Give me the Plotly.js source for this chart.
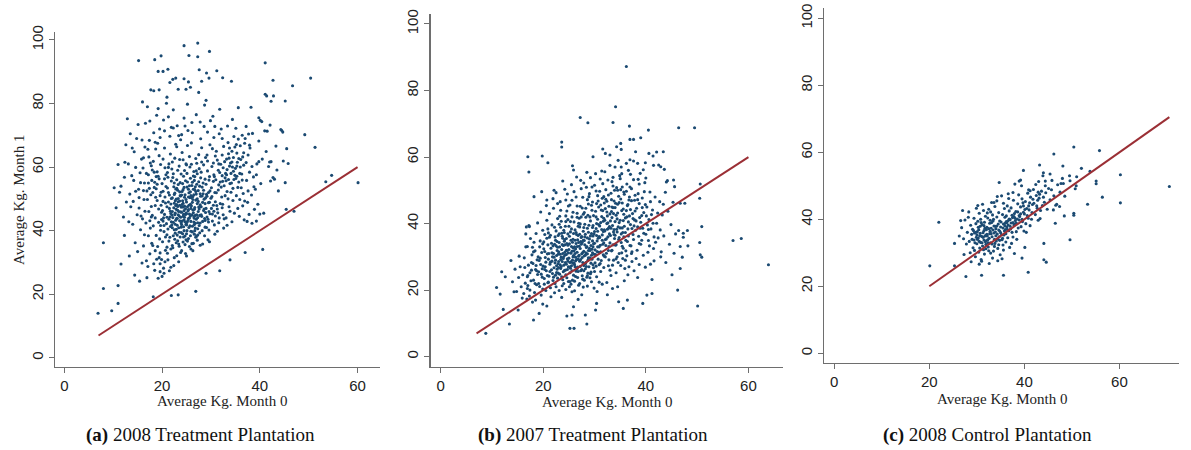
<!DOCTYPE html>
<html>
<head>
<meta charset="utf-8">
<script src="https://cdn.plot.ly/plotly-3.0.1.min.js"></script>
<style>
  html, body { margin: 0; padding: 0; background: #fff; }
  #chart { width: 1191px; height: 450px; }
</style>
</head>
<body>
<div id="chart"></div>
<script>
// panel captions and axis titles
var captions = ['(a)', '(b)', '(c)'];
var captionText = ['2008 Treatment Plantation', '2007 Treatment Plantation', '2008 Control Plantation'];
var xTitle = 'Average Kg. Month 0';
var yTitle = 'Average Kg. Month 1';
var xTicks = [0, 20, 40, 60];
var yTicks = [0, 20, 40, 60, 80, 100];

// 45 degree reference line ends (month 0 = month 1)
var lineA = [7, 60];
var lineB = [7, 60];
var lineC = [20, 70.5];

// (a) 2008 treatment: [kg month 0, kg month 1]
var coreA = [
  [10.2,53.5],[10.6,47.2],[11.3,52.1],[11.6,54.0],[11.0,60.8],
  [12.1,44.3],[12.4,61.5],[12.6,67.0],[12.9,75.2],[12.3,38.5],[12.7,49.0],
  [13.1,61.0],[13.3,32.0],[13.5,70.5],[13.8,57.3],[13.2,42.8],[13.6,47.5],[13.9,66.0],
  [14.0,42.0],[14.3,64.8],[14.5,36.2],[14.6,52.4],[14.4,26.0],[14.8,69.0],[14.2,55.8],[14.9,45.0],
  [15.1,73.4],[15.3,47.1],[15.0,33.4],[15.5,58.2],[15.6,40.3],[15.4,24.1],[15.8,62.5],[15.2,53.0],[15.9,29.8],[15.7,44.6],
  [16.0,80.5],[16.2,35.2],[16.4,55.0],[16.5,66.3],[16.7,42.4],[16.3,49.8],[16.8,30.5],[16.1,59.7],[16.9,25.2],[16.6,73.8],[16.4,38.7],[16.9,52.5],
  [17.0,79.0],[17.2,57.6],[17.3,46.0],[17.5,32.7],[17.4,68.4],[17.6,40.8],[17.8,60.4],[17.1,28.7],[17.7,51.3],[17.9,36.0],[17.5,74.5],[17.2,55.0],[17.8,44.3],[17.3,63.2],
  [18.0,59.1],[18.2,41.5],[18.3,84.0],[18.5,27.5],[18.4,53.6],[18.6,47.9],[18.7,65.7],[18.1,35.3],[18.8,57.0],[18.9,31.0],[18.3,70.8],[18.6,44.0],[18.2,61.8],[18.8,38.5],[18.5,55.2],[18.9,76.3],
  [19.0,49.5],[19.2,25.0],[19.1,67.5],[19.4,56.3],[19.3,42.6],[19.5,72.0],[19.6,29.6],[19.7,60.8],[19.8,52.1],[19.5,37.4],[19.9,45.8],[19.2,78.4],[19.6,33.0],[19.4,63.6],[19.8,48.0],[19.0,58.5],[19.7,40.1],
  [20.0,54.8],[20.1,46.3],[20.3,28.2],[20.2,62.5],[20.4,39.7],[20.5,71.4],[20.6,50.6],[20.7,33.8],[20.8,57.6],[20.3,44.0],[20.9,80.1],[20.1,36.5],[20.5,66.0],[20.7,48.7],[20.4,26.6],[20.9,42.2],[20.6,59.8],[20.2,52.4],
  [21.0,47.5],[21.2,30.8],[21.1,58.3],[21.4,43.6],[21.3,75.8],[21.5,51.2],[21.6,37.9],[21.7,64.1],[21.8,45.4],[21.5,27.4],[21.9,55.6],[21.2,40.5],[21.6,69.7],[21.3,49.0],[21.8,34.2],[21.4,61.0],[21.9,42.8],[21.1,53.4],[21.7,46.1],[21.0,82.0],
  [22.0,44.9],[22.1,50.3],[22.3,38.4],[22.2,56.7],[22.4,47.2],[22.5,31.5],[22.6,62.8],[22.7,42.0],[22.8,53.1],[22.9,36.2],[22.3,72.3],[22.5,48.6],[22.0,59.4],[22.7,45.5],[22.4,29.0],[22.8,67.2],[22.1,40.9],[22.6,51.8],[22.9,46.7],[22.2,34.6],[22.5,55.0],[22.8,43.3],[22.3,78.0],[22.7,49.4],
  [23.0,48.2],[23.1,41.7],[23.3,54.5],[23.2,36.8],[23.4,46.0],[23.5,60.3],[23.6,43.1],[23.7,51.0],[23.8,33.1],[23.9,57.8],[23.3,45.0],[23.5,39.5],[23.0,66.4],[23.6,49.3],[23.8,44.2],[23.2,52.7],[23.4,30.2],[23.9,47.4],[23.1,73.0],[23.7,38.0],[23.3,50.1],[23.6,62.4],[23.9,42.5],[23.0,56.0],[23.5,35.1],[23.8,68.6],
  [24.0,45.8],[24.1,52.3],[24.2,39.0],[24.3,48.6],[24.4,57.1],[24.5,43.4],[24.6,50.5],[24.7,35.6],[24.8,46.9],[24.9,61.0],[24.2,54.8],[24.4,41.2],[24.6,47.7],[24.8,32.8],[24.0,70.2],[24.3,44.5],[24.5,53.6],[24.7,38.3],[24.9,49.8],[24.1,64.6],[24.3,36.4],[24.6,58.9],[24.8,45.1],[24.0,51.2],[24.5,75.4],[24.9,42.0],
  [25.0,49.0],[25.1,42.6],[25.2,55.3],[25.3,46.2],[25.4,37.5],[25.5,51.9],[25.6,44.0],[25.7,60.0],[25.8,48.3],[25.9,39.8],[25.2,66.8],[25.4,53.0],[25.6,35.0],[25.8,56.5],[25.0,45.3],[25.3,71.5],[25.5,41.0],[25.7,50.4],[25.9,47.0],[25.1,58.0],[25.4,43.8],[25.6,63.3],[25.8,52.2],[25.2,79.8],[25.9,34.2],
  [26.0,47.8],[26.1,54.2],[26.2,41.4],[26.3,50.7],[26.4,45.6],[26.5,58.6],[26.6,38.9],[26.7,52.9],[26.8,44.8],[26.9,62.7],[26.2,48.9],[26.4,36.0],[26.6,55.8],[26.8,42.3],[26.0,67.6],[26.3,46.5],[26.5,51.3],[26.7,40.0],[26.9,49.6],[26.1,74.0],[26.4,57.2],[26.6,43.9],[26.8,53.8],[26.3,33.7],
  [27.0,51.5],[27.1,45.0],[27.2,57.9],[27.3,40.6],[27.4,49.2],[27.5,63.9],[27.6,46.8],[27.7,54.0],[27.8,42.4],[27.9,68.9],[27.2,37.0],[27.4,52.6],[27.6,59.5],[27.8,48.1],[27.0,76.5],[27.3,44.1],[27.5,55.4],[27.7,39.3],[27.9,50.8],[27.1,61.2],[27.5,83.5],[27.8,35.4],
  [28.0,47.5],[28.2,53.7],[28.3,42.9],[28.5,60.7],[28.6,49.9],[28.7,38.4],[28.8,56.2],[28.9,45.7],[28.1,66.1],[28.4,51.6],[28.6,72.8],[28.8,41.1],[28.0,58.4],[28.3,35.8],[28.5,46.3],[28.9,63.0],[28.7,79.5],[28.2,50.9],
  [29.0,54.6],[29.2,44.3],[29.3,61.9],[29.5,48.8],[29.6,40.2],[29.7,57.0],[29.8,67.0],[29.1,51.4],[29.4,37.1],[29.6,46.0],[29.9,74.6],[29.3,58.8],[29.5,42.7],[29.8,52.5],[29.0,81.0],[29.7,36.5],
  [30.0,50.2],[30.2,60.2],[30.3,45.2],[30.5,55.5],[30.6,69.3],[30.7,41.8],[30.8,52.0],[30.9,63.5],[30.1,47.0],[30.4,76.0],[30.6,57.6],[30.8,38.9],[30.3,65.8],[30.9,49.1],
  [31.0,56.0],[31.2,47.9],[31.3,62.2],[31.5,52.8],[31.6,42.5],[31.7,70.5],[31.8,58.3],[31.1,65.0],[31.4,45.6],[31.6,54.4],[31.9,48.5],[31.3,39.8],[31.8,78.2],
  [32.0,60.9],[32.2,50.6],[32.3,57.3],[32.5,45.0],[32.6,66.5],[32.7,54.1],[32.8,61.7],[32.1,72.0],[32.4,48.3],[32.6,40.8],[32.9,56.6],[32.3,63.8],
  [33.0,58.0],[33.2,62.5],[33.3,52.3],[33.5,67.7],[33.6,56.1],[33.7,47.5],[33.8,60.3],[33.1,44.0],[33.4,72.9],[33.6,64.2],[33.9,54.8],[33.3,41.7],
  [34.0,61.3],[34.2,55.0],[34.3,65.0],[34.5,49.5],[34.6,58.7],[34.7,69.6],[34.8,45.5],[34.1,52.1],[34.4,75.0],[34.6,63.0],[34.9,57.4],[34.3,42.8],
  [35.0,59.6],[35.2,51.0],[35.3,64.4],[35.5,47.0],[35.6,68.8],[35.7,55.3],[35.8,44.5],[35.1,72.2],[35.4,61.5],[35.9,49.8],[35.6,78.7],
  [36.0,66.7],[36.2,53.5],[36.4,70.0],[36.5,47.8],[36.7,60.6],[36.8,43.4],[36.3,57.8],[36.9,67.5],[36.6,51.7],
  [37.0,69.0],[37.3,55.8],[37.5,48.9],[37.6,63.8],[37.8,45.1],[37.2,72.8],[37.9,58.4],[37.4,42.9],
  [38.0,66.0],[38.3,51.2],[38.5,70.6],[38.7,56.9],[38.9,46.7],[38.2,78.8],
  [39.1,53.0],[39.4,61.0],[39.6,48.3],[39.8,68.2],[39.3,43.0],
  [40.2,54.8],[40.5,62.5],[40.8,45.5],[40.4,74.3],
  [41.3,64.9],[41.8,60.2],[41.5,71.3],[42.2,55.6],[42.8,82.4],[43.3,66.6],[43.8,52.5],[44.5,71.5]
];
// denser middle of panel (a)
var coreA2 = [
  [19.3,46.8],[19.6,51.0],[19.9,43.5],[20.2,49.2],[20.5,45.1],[20.8,53.9],[20.4,41.6],[20.7,38.0],[21.0,44.2],[21.3,52.0],[21.5,47.0],[21.7,41.3],[21.9,50.1],[21.2,56.8],[21.4,36.7],[21.8,48.4],
  [22.1,46.0],[22.3,42.6],[22.5,51.4],[22.7,39.2],[22.9,49.9],[22.2,44.1],[22.4,53.8],[22.6,37.3],[22.8,47.9],[22.0,41.8],[22.3,57.9],[22.6,45.0],[22.9,40.4],
  [23.0,43.9],[23.2,47.6],[23.4,40.9],[23.6,52.2],[23.8,45.9],[23.1,38.6],[23.3,49.1],[23.5,44.6],[23.7,55.1],[23.9,41.1],[23.2,46.4],[23.4,35.8],[23.6,48.0],[23.8,50.9],[23.0,53.3],
  [24.1,43.0],[24.3,47.4],[24.5,40.0],[24.7,51.3],[24.9,45.5],[24.2,49.4],[24.4,38.0],[24.6,44.2],[24.8,55.7],[24.0,41.9],[24.3,52.9],[24.5,46.3],[24.7,42.8],[24.9,37.1],[24.1,48.2],
  [25.0,41.8],[25.2,47.5],[25.4,50.6],[25.6,45.2],[25.8,38.4],[25.1,53.7],[25.3,43.2],[25.5,48.0],[25.7,41.5],[25.9,51.0],[25.2,36.7],[25.4,46.6],[25.6,54.1],[25.8,44.6],[25.0,39.0],
  [26.1,45.0],[26.3,49.8],[26.5,42.7],[26.7,47.3],[26.9,52.3],[26.2,39.6],[26.4,53.0],[26.6,46.7],[26.8,40.8],[26.0,50.4],[26.5,44.4],[26.7,57.0],[26.9,37.9],[26.2,55.2],
  [27.0,43.6],[27.2,48.5],[27.4,46.0],[27.6,41.6],[27.8,51.6],[27.1,54.6],[27.3,38.6],[27.5,47.4],[27.7,44.8],[27.9,56.6],[27.2,50.0],
  [28.1,44.5],[28.3,48.9],[28.5,52.7],[28.7,43.8],[28.9,50.3],[28.2,40.0],[28.4,55.0],[28.6,46.8],[28.8,48.5],
  [29.0,47.0],[29.2,50.8],[29.4,43.6],[29.6,55.9],[29.8,45.3],[29.1,41.0],[29.5,52.0],
  [30.1,53.5],[30.3,43.0],[30.5,48.0],[30.7,57.0],[30.9,44.6],[30.2,50.7],
  [31.1,51.9],[31.3,46.8],[31.5,59.0],[31.7,44.0],[31.9,55.3],
  [32.1,53.7],[32.3,47.2],[32.5,59.8],[32.7,43.7],[32.9,51.0],
  [33.1,55.7],[33.3,59.2],[33.5,50.0],[33.7,62.8],[33.9,46.1],
  [34.1,58.0],[34.3,61.6],[34.5,53.3],[34.7,56.1],[34.9,66.3],
  [35.1,56.4],[35.3,60.3],[35.5,53.6],[35.7,62.7],[35.9,58.0],
  [36.1,62.4],[36.4,55.9],[36.7,64.5],[36.9,49.3],[37.2,61.4],[37.6,52.5],[37.9,66.9],[38.4,60.2],[38.8,53.8],[39.3,57.6],
  [16.5,46.1],[17.0,49.8],[17.4,53.3],[17.8,47.6],[18.1,52.0],[18.4,58.4],[18.7,50.5],[19.0,54.6],[16.8,58.0],[17.6,61.3],
  [18.0,44.8],[15.3,50.4],[16.0,43.7],[17.2,38.4],[19.1,35.0],[19.4,31.5],[18.3,29.6],[20.6,30.2],[21.1,32.9],[21.8,28.5],[20.0,25.6],[19.6,27.1]
];
var coreA3 = [
  [16.2,62.9],[17.1,65.6],[18.6,67.8],[19.6,69.3],[20.3,74.8],[21.9,72.5],[23.4,69.9],[24.7,72.9],[26.2,70.8],[27.8,74.2],[29.3,71.0],
  [30.8,72.8],[32.3,69.0],[33.8,66.0],[35.2,67.1],[36.5,63.2],[37.7,70.4],[15.9,68.5],[14.6,59.9],[13.4,51.5],[12.3,56.8],
  [20.5,56.3],[21.3,59.9],[22.1,61.6],[23.2,59.0],[24.3,62.3],[25.0,60.7],[26.0,60.9],[27.0,58.8],[28.1,61.6],[29.2,63.8],[30.5,61.3],
  [31.6,61.0],[32.4,55.5],[33.2,57.6],[34.4,60.0],[35.3,57.1],[36.0,60.0],
  [19.7,41.6],[20.2,43.0],[21.0,38.7],[21.6,44.3],[22.5,40.3],[23.1,43.8],[23.9,39.4],[24.4,45.1],[25.1,40.0],[25.9,42.9],[26.6,41.9],
  [27.3,42.5],[28.0,45.0],[28.8,43.2],[29.7,48.9],[30.6,46.1],[17.9,55.8],[18.8,53.2],[19.2,57.1],[16.2,52.6],[15.6,55.1],[14.1,49.2],
  [22.1,35.3],[23.0,32.1],[24.0,33.7],[25.0,32.0],[26.1,35.9],[27.0,38.2],[21.0,34.8],[19.9,30.9],[18.6,33.7],[17.5,43.1]
];
var outA = [
  [27.3,99.0],[24.5,98.2],[29.7,96.4],[25.5,95.1],[27.3,94.7],[15.2,93.5],[18.5,93.8],[19.8,95.0],
  [19.2,90.1],[20.2,90.1],[21.2,90.8],[27.6,90.6],[31.2,90.3],[29.1,89.6],[41.1,92.8],[50.4,88.0],
  [46.7,85.6],[42.7,87.3],[34.2,87.0],[32.4,88.1],[29.6,88.0],[28.1,87.0],[22.8,88.0],[22.2,87.6],
  [21.6,86.6],[24.5,87.8],[25.4,86.8],[25.8,85.1],[17.7,84.3],[19.4,84.3],[23.3,84.5],[24.9,84.5],
  [41.1,82.9],[41.4,82.4],[42.3,80.7],[45.2,80.8],[49.2,70.2],[51.3,66.2],[45.5,65.8],[45.8,61.1],
  [44.8,61.9],[44.3,71.8],[44.7,71.0],[43.5,59.1],[42.7,56.7],[43.0,56.2],[45.2,55.1],[39.8,61.7],
  [42.0,61.6],[41.0,71.4],[42.1,73.2],[39.8,75.5],[40.1,74.7],
  [6.9,14.0],[8.0,36.2],[8.0,21.8],[9.7,14.8],[11.0,22.7],[11.0,17.1],[11.6,29.5],[18.2,19.2],
  [21.9,19.6],[23.3,19.8],[26.9,20.9],[29.0,26.6],[31.8,27.4],[37.0,33.1],[40.6,34.1],[45.4,46.7],
  [47.0,46.1],[53.5,55.4],[54.7,57.4],[60.1,55.1],[42.3,61.7],[38.4,42.3],[40.0,45.2],[33.9,30.8]
];

// (b) 2007 treatment
var coreB = [
  [14.0,22.5],[14.5,26.3],[14.8,19.6],[15.2,23.8],[15.5,27.0],[15.7,21.0],[15.9,17.6],[15.3,30.2],
  [16.0,24.6],[16.2,19.0],[16.4,26.8],[16.5,22.1],[16.7,39.0],[16.8,17.3],[16.3,29.7],[16.9,24.0],[16.6,33.0],
  [17.0,21.4],[17.1,27.5],[17.3,18.2],[17.4,25.2],[17.5,35.5],[17.6,22.8],[17.8,30.6],[17.9,16.4],[17.2,39.4],[17.7,26.0],[17.4,20.0],[17.9,32.9],
  [18.0,28.0],[18.1,23.0],[18.3,19.3],[18.4,31.8],[18.5,26.2],[18.6,37.0],[18.7,21.6],[18.8,29.1],[18.9,24.7],[18.2,34.4],[18.5,17.0],[18.9,40.2],[18.6,27.4],
  [19.0,30.0],[19.1,25.5],[19.3,21.1],[19.4,34.8],[19.5,27.7],[19.6,18.5],[19.7,31.3],[19.8,23.9],[19.9,38.0],[19.2,28.9],[19.5,43.5],[19.8,26.4],[19.3,33.0],[19.9,20.3],
  [20.0,27.2],[20.1,32.4],[20.2,23.5],[20.3,36.7],[20.4,29.8],[20.5,19.9],[20.6,25.8],[20.7,41.0],[20.8,30.9],[20.9,22.2],[20.1,34.5],[20.4,27.0],[20.6,45.4],[20.8,24.4],[20.3,31.6],[20.9,38.4],
  [21.0,29.3],[21.1,24.2],[21.2,35.9],[21.3,27.8],[21.4,20.7],[21.5,32.6],[21.6,26.1],[21.7,39.6],[21.8,30.0],[21.9,22.9],[21.2,43.0],[21.4,28.4],[21.6,34.1],[21.8,25.0],[21.0,37.2],[21.5,18.0],[21.7,31.2],[21.9,47.5],
  [22.0,31.0],[22.1,26.7],[22.2,33.8],[22.3,22.0],[22.4,29.0],[22.5,37.8],[22.6,25.3],[22.7,31.9],[22.8,41.5],[22.9,27.9],[22.2,19.2],[22.4,35.0],[22.6,30.4],[22.8,23.6],[22.0,44.6],[22.3,28.2],[22.5,33.3],[22.7,26.3],[22.9,36.4],[22.1,50.0],
  [23.0,28.6],[23.1,34.3],[23.2,24.8],[23.3,30.8],[23.4,38.9],[23.5,27.1],[23.6,32.2],[23.7,21.3],[23.8,35.6],[23.9,29.5],[23.2,42.2],[23.4,26.5],[23.6,37.1],[23.8,23.1],[23.0,31.5],[23.3,46.6],[23.5,29.9],[23.7,33.7],[23.9,25.5],[23.1,39.8],[23.6,17.8],[23.8,52.8],
  [24.0,30.1],[24.1,25.9],[24.2,35.2],[24.3,28.3],[24.4,40.6],[24.5,32.0],[24.6,23.7],[24.7,29.4],[24.8,36.9],[24.9,27.0],[24.2,31.4],[24.4,20.2],[24.6,43.8],[24.8,33.5],[24.0,38.0],[24.3,26.0],[24.5,30.7],[24.7,48.9],[24.9,22.6],[24.1,34.7],[24.5,27.8],[24.8,41.2],
  [25.0,29.6],[25.1,33.9],[25.2,25.2],[25.3,37.5],[25.4,31.1],[25.5,27.3],[25.6,42.0],[25.7,23.0],[25.8,35.3],[25.9,30.4],[25.2,45.6],[25.4,28.5],[25.6,19.5],[25.8,32.7],[25.0,39.2],[25.3,26.6],[25.5,51.7],[25.7,34.4],[25.9,24.5],[25.1,36.2],[25.4,21.8],[25.8,28.1],[25.6,47.0],
  [26.0,31.8],[26.1,27.6],[26.2,38.1],[26.3,24.1],[26.4,34.0],[26.5,29.2],[26.6,43.1],[26.7,26.9],[26.8,36.4],[26.9,21.5],[26.2,31.0],[26.4,48.0],[26.6,33.1],[26.8,25.6],[26.0,40.5],[26.3,28.8],[26.5,54.0],[26.7,35.1],[26.9,30.2],[26.1,22.7],[26.4,37.3],[26.8,17.2],[26.6,45.3],
  [27.0,33.2],[27.1,28.7],[27.2,39.9],[27.3,25.8],[27.4,35.8],[27.5,30.9],[27.6,44.7],[27.7,23.3],[27.8,37.7],[27.9,27.4],[27.2,32.5],[27.4,50.5],[27.6,29.8],[27.8,20.9],[27.0,41.6],[27.3,34.6],[27.5,26.2],[27.7,47.9],[27.9,31.7],[27.1,36.8],[27.5,18.6],[27.8,42.8],[27.3,53.0],
  [28.0,30.3],[28.1,36.0],[28.2,26.4],[28.3,41.9],[28.4,32.8],[28.5,23.9],[28.6,38.6],[28.7,29.0],[28.8,45.9],[28.9,34.3],[28.2,27.9],[28.4,50.9],[28.6,21.2],[28.8,37.4],[28.0,43.3],[28.3,31.2],[28.5,55.4],[28.7,25.1],[28.9,39.5],[28.1,33.6],[28.6,47.2],
  [29.0,35.4],[29.1,29.7],[29.2,40.8],[29.3,25.4],[29.4,37.0],[29.5,32.3],[29.6,46.5],[29.7,27.6],[29.8,42.4],[29.9,30.8],[29.2,53.8],[29.4,22.5],[29.6,38.8],[29.8,33.9],[29.0,49.0],[29.3,28.1],[29.5,44.0],[29.7,36.3],[29.9,20.6],[29.1,31.9],
  [30.0,37.6],[30.1,32.1],[30.2,43.7],[30.3,27.2],[30.4,40.0],[30.5,34.8],[30.6,48.4],[30.7,29.3],[30.8,45.0],[30.9,36.1],[30.2,55.0],[30.4,24.0],[30.6,41.3],[30.8,31.4],[30.0,51.5],[30.3,38.5],[30.5,19.6],[30.7,46.8],[30.9,33.0],
  [31.0,39.3],[31.1,33.5],[31.2,45.6],[31.3,28.9],[31.4,42.1],[31.5,36.6],[31.6,52.0],[31.7,30.6],[31.8,48.1],[31.9,38.1],[31.2,25.6],[31.4,55.8],[31.6,43.9],[31.8,34.2],[31.0,49.7],[31.5,21.8],[31.7,40.7],[31.9,46.2],
  [32.0,41.0],[32.1,35.2],[32.2,47.3],[32.3,31.1],[32.4,43.5],[32.5,38.3],[32.6,53.1],[32.7,27.3],[32.8,45.2],[32.9,36.9],[32.2,50.2],[32.4,22.3],[32.6,40.2],[32.8,33.1],[32.0,55.6],[32.5,18.6],[32.7,48.6],
  [33.0,42.9],[33.1,36.4],[33.2,49.1],[33.3,31.8],[33.4,45.0],[33.5,39.4],[33.6,53.9],[33.7,29.0],[33.8,46.8],[33.9,35.5],[33.2,24.4],[33.4,41.8],[33.6,51.3],[33.8,38.2],[33.0,57.5],[33.5,20.5],[33.7,43.0],
  [34.0,40.6],[34.1,46.1],[34.2,33.7],[34.3,50.8],[34.4,37.5],[34.5,43.2],[34.6,28.3],[34.7,48.2],[34.8,35.8],[34.9,54.4],[34.2,25.2],[34.4,41.4],[34.6,59.0],[34.8,31.0],[34.0,44.8],[34.5,21.0],
  [35.0,38.7],[35.1,47.4],[35.2,34.3],[35.3,43.9],[35.4,51.0],[35.5,29.5],[35.6,40.9],[35.7,36.0],[35.8,48.8],[35.9,26.5],[35.2,57.0],[35.4,33.2],[35.6,44.4],[35.8,22.8],[35.0,53.5],[35.5,37.3],
  [36.0,41.7],[36.1,35.0],[36.2,49.7],[36.3,30.3],[36.4,45.4],[36.5,38.4],[36.6,56.0],[36.7,27.0],[36.8,42.3],[36.9,33.4],[36.3,51.9],[36.5,24.6],[36.7,47.1],[36.9,59.2],
  [37.0,39.7],[37.1,33.3],[37.2,46.9],[37.3,28.6],[37.4,43.0],[37.5,36.7],[37.6,53.2],[37.7,25.8],[37.8,41.1],[37.9,48.5],[37.3,31.5],[37.6,58.8],
  [38.0,38.0],[38.2,44.6],[38.3,32.0],[38.5,49.0],[38.6,36.2],[38.7,27.7],[38.8,41.8],[38.9,55.1],[38.4,23.8],[38.7,46.0],
  [39.0,40.4],[39.2,35.0],[39.3,47.7],[39.5,30.5],[39.6,43.3],[39.8,52.3],[39.9,26.9],[39.4,38.6],
  [40.0,36.8],[40.2,45.0],[40.4,31.4],[40.6,41.2],[40.8,49.5],[40.9,27.8],[40.5,34.9],
  [41.0,38.4],[41.3,44.1],[41.5,32.5],[41.8,48.0],[41.6,28.8],[41.2,23.2],
  [42.1,40.1],[42.4,35.7],[42.7,46.6],[42.9,30.0],[42.5,57.6],
  [43.2,42.6],[43.5,36.3],[43.8,49.4],[43.9,28.3],[44.3,43.7],[44.6,33.8],[44.9,39.7],[45.3,46.4],[44.0,52.5],[45.8,36.9],[43.0,31.5]
];
// denser middle of panel (b)
var coreB2 = [
  [22.1,29.9],[22.4,24.5],[22.7,34.6],[22.9,30.8],[22.3,36.0],[22.6,27.3],[22.8,32.9],[22.0,23.9],
  [23.0,26.8],[23.2,33.0],[23.4,29.2],[23.6,24.0],[23.8,31.0],[23.1,36.9],[23.3,27.6],[23.5,40.7],[23.7,28.6],[23.9,33.4],
  [24.0,27.5],[24.2,33.6],[24.4,24.6],[24.6,31.9],[24.8,28.7],[24.1,37.3],[24.3,30.6],[24.5,35.5],[24.7,26.2],[24.9,31.2],[24.4,42.3],
  [25.0,32.2],[25.2,28.3],[25.4,35.0],[25.6,25.8],[25.8,30.0],[25.1,26.9],[25.3,40.6],[25.5,33.1],[25.7,29.0],[25.9,37.0],[25.2,22.6],[25.6,31.7],
  [26.0,28.1],[26.2,35.0],[26.4,25.7],[26.6,31.4],[26.8,39.2],[26.1,33.0],[26.3,29.9],[26.5,36.7],[26.7,23.8],[26.9,34.3],[26.2,27.0],[26.6,41.9],[26.8,29.3],
  [27.0,30.5],[27.2,27.1],[27.4,33.8],[27.6,24.3],[27.8,35.0],[27.1,39.0],[27.3,29.2],[27.5,36.1],[27.7,31.3],[27.9,25.8],[27.2,45.2],[27.6,34.3],[27.9,38.8],
  [28.0,34.9],[28.2,30.5],[28.4,27.1],[28.6,35.7],[28.8,31.9],[28.1,39.8],[28.3,28.3],[28.5,33.1],[28.7,42.5],[28.9,27.0],[28.2,36.8],[28.6,24.3],[28.8,29.7],
  [29.0,32.6],[29.2,36.3],[29.4,30.5],[29.6,34.8],[29.8,26.7],[29.1,42.0],[29.3,33.4],[29.5,29.3],[29.7,39.4],[29.9,36.9],[29.2,24.9],[29.6,31.2],
  [30.0,34.1],[30.2,30.7],[30.4,36.4],[30.6,33.0],[30.8,39.7],[30.1,28.2],[30.3,42.0],[30.5,31.6],[30.7,35.6],[30.9,27.6],[30.4,46.0],
  [31.0,35.8],[31.2,31.5],[31.4,38.2],[31.6,33.8],[31.8,41.6],[31.1,28.0],[31.3,44.1],[31.5,35.0],[31.7,37.6],[31.9,30.2],
  [32.0,37.8],[32.2,33.4],[32.4,40.0],[32.6,36.0],[32.8,29.1],[32.1,44.5],[32.3,35.4],[32.5,42.3],[32.7,31.9],[32.9,39.1],
  [33.0,34.2],[33.2,38.6],[33.4,32.0],[33.6,44.8],[33.8,36.7],[33.1,40.8],[33.3,47.2],[33.5,27.5],[33.7,37.5],
  [34.0,36.5],[34.2,42.5],[34.4,30.0],[34.6,39.0],[34.8,46.3],[34.1,33.5],[34.3,38.3],[34.5,50.0],[34.7,35.2],
  [35.0,41.0],[35.2,36.9],[35.4,46.2],[35.6,32.6],[35.8,39.2],[35.1,50.2],[35.3,31.2],[35.7,42.8],
  [36.0,37.3],[36.2,43.9],[36.4,34.6],[36.6,40.5],[36.8,48.0],[36.1,31.8],[36.5,45.7],
  [37.0,44.2],[37.3,38.5],[37.6,35.2],[37.9,43.8],[37.2,50.5],[37.7,39.3],
  [38.1,40.8],[38.4,47.2],[38.7,34.0],[38.9,38.6],[39.2,42.4],[39.6,37.1],[39.9,45.7],[40.3,39.6],[40.7,33.3],[41.1,42.7],[41.6,36.0],
  [20.5,28.4],[20.9,33.6],[21.3,25.6],[21.7,28.7],[21.1,31.0],[19.6,24.8],[20.2,21.8],[18.7,25.8],[19.1,22.0]
];
var coreB3 = [
  [21.4,36.5],[21.9,33.3],[22.2,38.9],[22.5,21.0],[22.9,25.1],[23.1,19.9],[23.4,44.0],[23.7,36.2],[24.0,22.0],[24.3,39.2],[24.6,34.0],[24.9,45.3],
  [25.1,21.0],[25.5,38.4],[25.8,43.4],[26.1,19.8],[26.3,32.4],[26.6,26.4],[26.9,40.1],[27.1,22.0],[27.4,42.0],[27.7,28.3],[28.0,23.0],[28.3,44.6],
  [28.6,30.9],[28.9,48.1],[29.1,23.7],[29.4,45.5],[29.7,33.0],[30.0,25.6],[30.3,49.8],[30.6,37.7],[30.9,22.4],[31.2,40.3],[31.5,47.6],[31.8,26.8],
  [32.1,30.0],[32.4,46.7],[32.7,38.6],[33.0,26.0],[33.3,43.6],[33.6,33.6],[33.9,50.0],[34.2,29.4],[34.5,45.8],[34.8,40.3],[35.1,27.4],[35.4,38.7],
  [35.7,49.5],[36.0,29.0],[36.3,42.0],[36.6,36.3],[36.9,51.0],[37.2,31.0],[37.5,41.5],[37.8,47.0],[38.1,29.5],[38.4,39.0],[38.7,51.9],[39.0,33.8],
  [39.3,44.8],[39.7,49.6],[40.1,42.3],[40.5,38.2],[40.9,46.6],[41.4,40.1],[41.9,34.4],[42.3,43.2],[42.8,38.1],[43.4,45.8],[19.4,29.6],[19.9,33.9],
  [20.3,26.2],[20.7,35.6],[21.0,22.4],[18.4,22.0],[17.7,28.3],[18.1,31.5],[16.9,20.5],[17.0,24.4],
  [22.8,46.0],[24.2,50.3],[26.0,49.6],[27.9,52.2],[29.5,51.0],[31.1,53.4],[33.4,52.6],[35.3,55.0],[37.0,54.8],[38.5,53.3],[40.0,53.7],[36.2,58.1],[34.0,57.0],[39.5,56.2]
];
var outB = [
  [36.2,87.2],[34.1,75.1],[27.2,71.9],[28.7,70.3],[33.6,70.4],[36.8,69.3],[40.5,68.1],[46.4,68.8],
  [49.5,68.8],[23.6,64.5],[23.6,63.0],[31.6,62.4],[29.7,60.1],[17.0,60.1],[19.8,60.3],[20.9,58.3],
  [17.2,55.5],[25.7,57.4],[25.9,56.1],[36.9,65.3],[37.6,65.3],[39.0,65.8],[35.1,64.1],[34.3,63.1],
  [35.2,62.3],[38.0,61.6],[40.6,61.1],[42.1,61.5],[43.4,61.6],[41.4,60.3],[32.1,61.1],[33.0,60.6],
  [38.4,58.1],[39.9,58.3],[42.9,57.1],[41.5,57.5],[43.6,56.3],[45.4,53.1],[44.2,52.9],[45.6,51.1],
  [50.6,51.9],[50.5,47.6],[47.6,46.1],[46.7,46.1],[50.9,39.1],[50.5,34.3],[50.6,30.6],[50.9,29.9],
  [57.0,34.9],[58.6,35.5],[63.9,27.6],[50.1,15.2],[46.2,20.0],[46.7,26.5],[47.1,29.9],[45.1,24.6],
  [48.2,33.3],[48.1,37.9],[47.3,37.1],[46.4,37.9],[47.3,35.9],[46.7,33.1],[45.5,31.1],[39.4,16.0],
  [40.2,18.5],[41.2,19.0],[36.4,17.0],[35.6,14.5],[34.7,16.5],[30.4,16.0],[30.2,14.0],[28.5,9.8],
  [28.2,12.5],[25.2,8.5],[26.0,8.5],[25.6,12.5],[24.6,12.2],[25.9,15.0],[8.8,7.0],[13.4,9.8],
  [10.9,20.8],[11.6,18.8],[12.2,14.2],[11.9,25.5],[12.6,24.0],[13.7,28.9],[14.3,19.5],[15.1,14.0],
  [18.1,11.0],[19.2,13.0],[19.9,15.8],[20.7,15.2],[16.9,33.1],[16.6,36.9],[17.3,39.1],[18.2,48.1],
  [19.7,49.6],[20.7,47.1],[22.5,49.3],[24.4,47.1]
];

// (c) 2008 control
var coreC = [
  [26.3,35.0],[26.8,37.5],[27.2,34.2],[27.5,39.8],[27.8,32.6],[27.3,29.5],
  [28.0,36.1],[28.2,40.6],[28.4,33.4],[28.6,30.0],[28.7,38.2],[28.9,35.5],[28.3,42.2],[28.8,27.3],
  [29.0,34.0],[29.1,37.0],[29.2,31.5],[29.4,40.3],[29.5,35.9],[29.6,33.0],[29.7,28.8],[29.8,38.7],[29.9,43.3],[29.3,36.6],[29.5,30.7],[29.9,34.6],
  [30.0,32.7],[30.1,36.3],[30.2,39.4],[30.3,34.4],[30.4,30.2],[30.5,41.8],[30.6,35.1],[30.7,37.9],[30.8,33.1],[30.9,28.0],[30.2,44.1],[30.4,36.9],[30.6,31.4],[30.8,40.0],[30.0,35.4],[30.5,26.6],
  [31.0,34.9],[31.1,38.4],[31.2,32.0],[31.3,36.0],[31.4,42.6],[31.5,33.8],[31.6,29.6],[31.7,37.3],[31.8,40.9],[31.9,35.2],[31.2,44.5],[31.4,30.9],[31.6,39.1],[31.8,33.3],[31.0,27.5],[31.5,36.6],[31.9,31.2],
  [32.0,33.6],[32.1,37.6],[32.2,35.0],[32.3,40.4],[32.4,31.7],[32.5,43.0],[32.6,34.3],[32.7,38.8],[32.8,36.4],[32.9,29.9],[32.2,41.9],[32.4,33.0],[32.6,26.8],[32.8,39.7],[32.0,36.9],[32.5,30.6],[32.9,42.2],
  [33.0,35.7],[33.1,39.0],[33.2,32.6],[33.3,41.3],[33.4,36.8],[33.5,30.5],[33.6,38.0],[33.7,34.0],[33.8,43.8],[33.9,36.2],[33.3,28.4],[33.5,40.0],[33.7,31.9],[33.9,37.9],[33.1,45.0],
  [34.0,37.2],[34.1,33.5],[34.2,40.7],[34.3,35.6],[34.4,31.3],[34.5,38.6],[34.6,42.0],[34.7,34.8],[34.8,36.5],[34.9,29.4],[34.2,45.5],[34.6,32.4],[34.8,39.5],[34.4,27.6],
  [35.0,36.0],[35.1,39.2],[35.3,33.9],[35.4,41.4],[35.5,37.4],[35.6,30.8],[35.7,35.3],[35.8,43.2],[35.9,38.1],[35.2,47.0],[35.5,32.3],[35.9,40.6],[35.3,28.2],
  [36.0,38.9],[36.1,35.7],[36.2,41.0],[36.3,37.7],[36.4,44.0],[36.5,34.5],[36.6,39.6],[36.7,36.6],[36.8,42.5],[36.9,31.6],[36.3,39.0],[36.7,46.2],[36.1,33.2],
  [37.0,39.9],[37.1,37.1],[37.2,43.4],[37.4,36.1],[37.5,40.5],[37.6,34.7],[37.7,45.7],[37.8,38.3],[37.9,41.7],[37.3,32.8],[37.6,48.0],[37.9,29.8],
  [38.0,38.6],[38.2,42.3],[38.3,36.3],[38.5,40.1],[38.6,44.6],[38.7,37.4],[38.9,41.1],[38.4,34.0],[38.8,47.3],[38.1,39.6],
  [39.0,40.8],[39.2,43.7],[39.3,37.8],[39.5,46.1],[39.6,39.3],[39.8,42.1],[39.9,36.5],[39.4,50.0],[39.7,44.9],
  [40.0,41.6],[40.2,45.3],[40.3,38.7],[40.5,43.2],[40.7,47.8],[40.8,40.3],[40.4,36.1],[40.9,44.0],
  [41.0,42.8],[41.3,46.6],[41.5,40.0],[41.7,44.4],[41.9,48.9],[41.2,38.1],[41.6,42.0],
  [42.0,44.8],[42.3,41.4],[42.5,47.1],[42.7,43.3],[42.9,39.7],[42.4,50.4],[42.8,45.7],
  [43.1,46.3],[43.4,42.6],[43.6,48.4],[43.8,44.1],[43.3,40.2],[43.9,53.0],
  [44.2,45.1],[44.5,47.9],[44.8,43.0],[45.1,49.2],[45.4,45.8],[45.8,51.6],[46.2,47.0],[46.6,44.2],[47.0,50.3],[47.5,48.1],[48.0,52.2],[48.5,46.9]
];
// denser middle of panel (c)
var coreC2 = [
  [29.4,33.8],[29.8,36.1],[30.1,34.0],[30.3,37.6],[30.5,33.4],[30.7,35.8],[30.9,39.0],[31.1,33.0],[31.3,34.6],[31.5,38.1],[31.7,35.0],[31.9,32.5],
  [32.1,35.5],[32.3,33.9],[32.5,37.2],[32.7,35.7],[32.9,33.0],[33.0,37.3],[33.2,34.8],[33.4,39.5],[33.6,35.9],[33.8,32.8],
  [34.0,35.1],[34.2,38.0],[34.4,34.2],[34.6,36.8],[34.8,33.7],[35.0,37.7],[35.2,35.4],[35.4,34.3],[35.6,38.6],[35.8,36.5],
  [36.0,36.9],[36.2,39.3],[36.4,37.0],[36.6,38.3],[36.8,40.1],[37.0,37.9],[37.2,38.9],[37.4,41.2],[37.6,39.0],[37.8,40.8],
  [38.0,40.4],[38.3,38.9],[38.6,42.2],[38.9,39.8],[39.2,41.6],[39.5,40.0],[39.8,44.0],[40.1,42.9],[40.6,41.1],[41.1,44.9],[41.8,46.0],[42.6,44.0],[43.2,47.5],[44.0,46.6]
];
var outC = [
  [20.1,26.1],[22.0,39.1],[25.3,26.1],[25.3,32.8],[27.0,42.6],[26.6,39.6],[27.7,22.9],[31.0,23.3],
  [35.6,23.3],[40.8,24.2],[44.1,27.9],[44.6,27.2],[39.5,28.4],[40.1,31.6],[44.1,32.8],[49.6,33.9],
  [34.7,51.0],[39.8,54.6],[43.2,56.2],[46.2,59.5],[48.1,55.9],[50.4,61.6],[52.0,55.2],[55.8,60.5],
  [53.8,54.3],[55.1,51.4],[55.1,50.6],[53.3,44.5],[56.4,46.6],[60.2,53.3],[60.2,44.9],[70.5,49.8],
  [50.4,41.8],[50.4,41.2],[50.9,50.0],[50.7,49.1],[49.6,51.5],[49.5,53.0],[51.0,52.7],[48.2,50.7],
  [47.7,50.7],[47.4,43.8],[46.8,44.5],[46.1,42.8],[46.5,38.8],[48.4,41.0],[45.4,53.5],[44.4,51.4],
  [44.0,53.9],[43.0,51.3],[40.9,48.8],[41.2,48.5],[42.9,48.1],[44.4,50.0],[45.7,48.8],[39.2,51.7],
  [38.9,51.4],[38.0,50.5],[36.6,47.6],[34.3,46.8],[35.6,44.8],[33.6,45.0]
];

var dotColor = '#1b4a72';
var lineColor = '#9b2f35';
var axisColor = '#6e6e6e';

var ptsA = coreA.concat(coreA2, coreA3, outA);
var ptsB = coreB.concat(coreB2, coreB3, outB);
var ptsC = coreC.concat(coreC2, outC);

function dots(pts, xa, ya) {
  return {
    x: pts.map(d => d[0]), y: pts.map(d => d[1]),
    xaxis: xa, yaxis: ya,
    mode: 'markers', type: 'scatter',
    marker: { size: 3.1, color: dotColor },
    hoverinfo: 'skip'
  };
}
function fortyFive(ends, xa, ya) {
  return {
    x: ends, y: ends, xaxis: xa, yaxis: ya,
    mode: 'lines', type: 'scatter',
    line: { color: lineColor, width: 2 },
    hoverinfo: 'skip'
  };
}

var data = [
  dots(ptsA, 'x', 'y'), fortyFive(lineA, 'x', 'y'),
  dots(ptsB, 'x2', 'y2'), fortyFive(lineB, 'x2', 'y2'),
  dots(ptsC, 'x3', 'y3'), fortyFive(lineC, 'x3', 'y3')
];

var tickFont = { family: 'Liberation Sans, Arial, sans-serif', size: 15, color: '#222' };
function xax(dom, range, anchor) {
  return {
    domain: dom, range: range, anchor: anchor,
    tickvals: xTicks, ticks: 'outside', ticklen: 5, tickcolor: axisColor,
    showline: true, linecolor: axisColor, linewidth: 1.2,
    showgrid: false, zeroline: false, tickfont: tickFont
  };
}
function yax(dom, range, anchor) {
  return {
    domain: dom, range: range, anchor: anchor,
    tickvals: yTicks, ticks: 'outside', ticklen: 5, tickcolor: axisColor, tickangle: -90,
    showline: true, linecolor: axisColor, linewidth: 1.2,
    showgrid: false, zeroline: false, tickfont: tickFont
  };
}

var serif = 'Liberation Serif, Times New Roman, serif';
var annotations = [];
var capX = [200 / 1191, 593 / 1191, 987 / 1191];
var titleX = [223 / 1191, 607 / 1191, 1002 / 1191];
var titleY = [1 - 401 / 450, 1 - 402 / 450, 1 - 399 / 450];
for (var i = 0; i < 3; i++) {
  annotations.push({
    xref: 'paper', yref: 'paper', x: capX[i], y: 1 - 435 / 450,
    text: '<b>' + captions[i] + '</b> ' + captionText[i], showarrow: false,
    font: { family: serif, size: 19, color: '#111' }, xanchor: 'center', yanchor: 'middle'
  });
  annotations.push({
    xref: 'paper', yref: 'paper', x: titleX[i], y: titleY[i],
    text: xTitle, showarrow: false,
    font: { family: serif, size: 15, color: '#222' }, xanchor: 'center', yanchor: 'middle'
  });
}
annotations.push({
  xref: 'paper', yref: 'paper', x: 19 / 1191, y: 1 - 200 / 450,
  text: yTitle, showarrow: false, textangle: -90,
  font: { family: serif, size: 15, color: '#222' }, xanchor: 'center', yanchor: 'middle'
});

var layout = {
  width: 1191, height: 450,
  margin: { l: 0, r: 0, t: 0, b: 0 },
  paper_bgcolor: '#fff', plot_bgcolor: '#fff',
  showlegend: false,
  xaxis: xax([0.0462, 0.3191], [-1.9, 64.6], 'y'),
  yaxis: yax([0.1838, 0.9296], [-3.0, 102.6], 'x'),
  xaxis2: xax([0.3616, 0.6577], [-1.95, 66.8], 'y2'),
  yaxis2: yax([0.1838, 0.9689], [-3.2, 103], 'x2'),
  xaxis3: xax([0.6921, 0.9902], [-2.1, 72.6], 'y3'),
  yaxis3: yax([0.1927, 0.9816], [-3.0, 103], 'x3'),
  annotations: annotations
};

Plotly.newPlot('chart', data, layout, { staticPlot: true });
</script>
</body>
</html>
